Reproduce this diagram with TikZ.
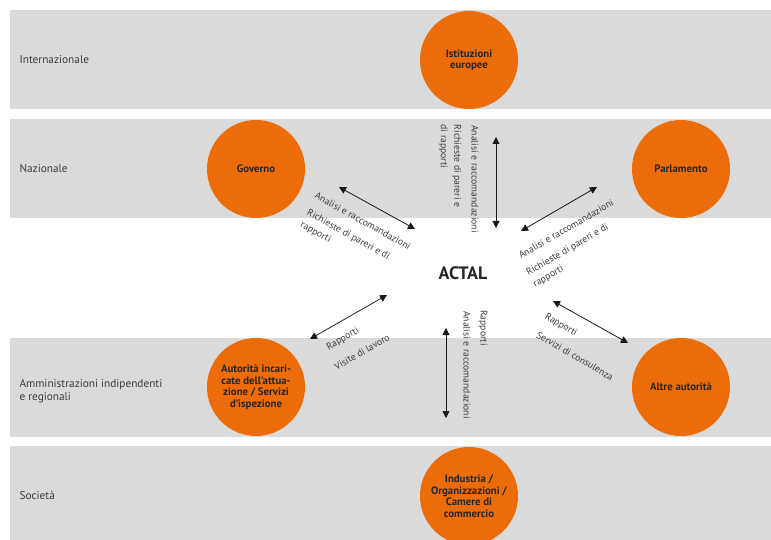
\documentclass[tikz,border=0pt]{standalone}
\usepackage{fontspec}
\setmainfont{PT Sans}
\usepackage{tikz}
\usetikzlibrary{arrows.meta,positioning}

\definecolor{band}{RGB}{218,218,218}
\definecolor{actorange}{RGB}{236,108,10}
\definecolor{labelgray}{RGB}{60,60,60}

\begin{document}
\begin{tikzpicture}[x=1pt,y=-1pt,<->,>={Triangle[length=7pt,width=7pt]},
  actor/.style={circle,fill=actorange,minimum size=98pt,inner sep=0pt,align=center,
    text=black!85,font=\fontsize{10.8}{11.5}\selectfont\bfseries},
  level/.style={anchor=west,align=left,text=labelgray,font=\fontsize{11.3}{13}\selectfont},
  flow/.style={text=labelgray,align=left,inner sep=0pt,font=\fontsize{9.7}{13.5}\selectfont},
  link/.style={draw=black!90,line width=0.8pt}]
  \useasboundingbox (0,0) rectangle (771,540);
  % bands
  \fill[band] (10,10) rectangle (771,109);
  \fill[band] (10,119) rectangle (771,218);
  \fill[band] (10,338) rectangle (771,437);
  \fill[band] (10,446) rectangle (771,540);
  \node[level] (int) at (16,60)  {Internazionale};
  \node[level] (naz) at (16,169) {Nazionale};
  \node[level] (amm) at (16,391) {Amministrazioni indipendenti\\e regionali};
  \node[level] (soc) at (16,495) {Società};
  % actors
  \node[actor] (eu)   at (469,60)  {Istituzioni\\europee};
  \node[actor] (gov)  at (256,169) {Governo};
  \node[actor] (parl) at (681,169) {Parlamento};
  \node[actor] (aut)  at (256,387) {Autorità incari-\\cate dell’attua-\\zione / Servizi\\d’ispezione};
  \node[actor] (alt)  at (681,387) {Altre autorità};
  \node[actor] (ind)  at (469,496) {Industria /\\Organizzazioni /\\Camere di\\commercio};
  \node[font=\fontsize{18}{20}\selectfont\bfseries,text=black!85] (actal) at (463,273) {ACTAL};
  % arrow ends
  \coordinate (gov1) at (339,187);  \coordinate (gov2) at (415,229);
  \coordinate (top1) at (496,137);  \coordinate (top2) at (496,228);
  \coordinate (parl1) at (521,231); \coordinate (parl2) at (597,187);
  \coordinate (aut1) at (310,339);  \coordinate (aut2) at (387,295);
  \coordinate (bot1) at (446,328);  \coordinate (bot2) at (446,418);
  \coordinate (alt1) at (553,301);  \coordinate (alt2) at (628,343);
  \draw[link] (gov1) -- (gov2);
  \draw[link] (top1) -- (top2);
  \draw[link] (parl1) -- (parl2);
  \draw[link] (aut1) -- (aut2);
  \draw[link] (bot1) -- (bot2);
  \draw[link] (alt1) -- (alt2);
  % labels
  \node[flow,rotate=-29] (govA) at (363,221) {Analisi e raccomandazioni};
  \node[flow,rotate=-29] (govR) at (345,241) {Richieste di pareri e di\\rapporti};
  \node[flow,rotate=-90] (topA) at (475,179) {Analisi e raccomandazioni};
  \node[flow,rotate=-90] (topR) at (450,166) {Richieste di pareri e\\di rapporti};
  \node[flow,rotate=30] (parlA) at (566,229) {Analisi e raccomandazioni};
  \node[flow,rotate=30] (parlR) at (571,256) {Richieste di pareri e di\\rapporti};
  \node[flow,rotate=30] (autR) at (343,339) {Rapporti};
  \node[flow,rotate=30] (autV) at (362,352) {Visite di lavoro};
  \node[flow,rotate=-90] (botR) at (483,328) {Rapporti};
  \node[flow,rotate=-90] (botA) at (467,365) {Analisi e raccomandazioni};
  \node[flow,rotate=-30] (altR) at (561,325) {Rapporti};
  \node[flow,rotate=-30] (altS) at (575,356) {Servizi di consulenza};
\end{tikzpicture}
\end{document}
